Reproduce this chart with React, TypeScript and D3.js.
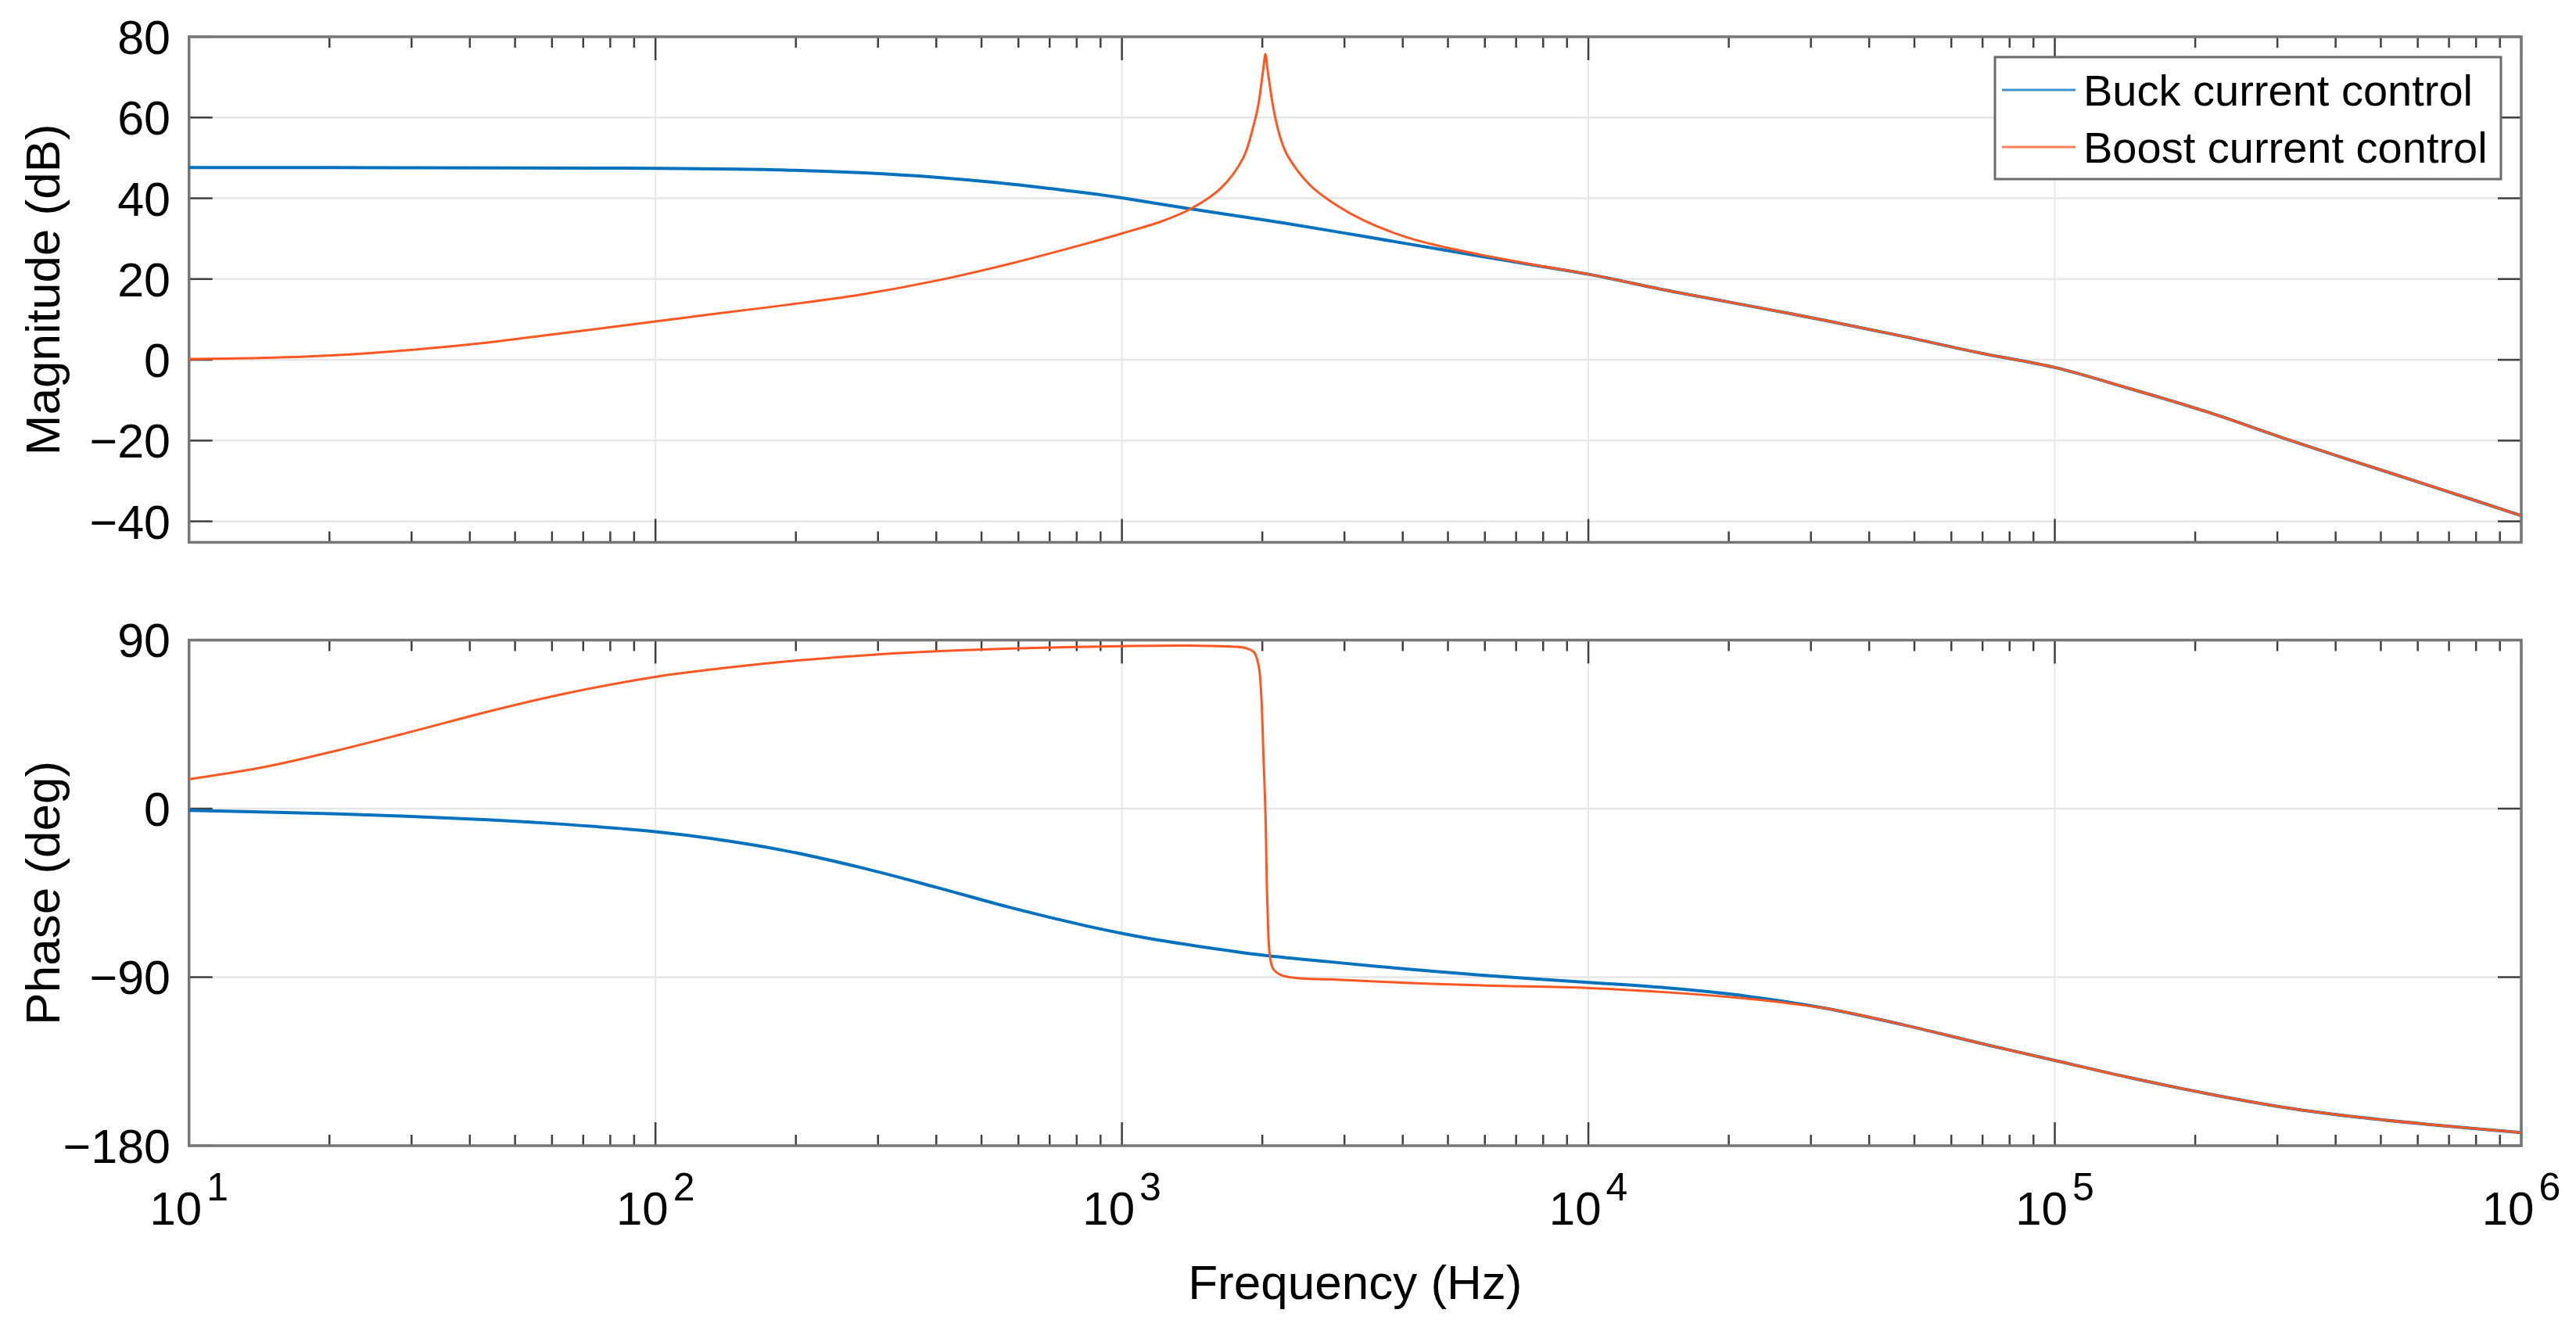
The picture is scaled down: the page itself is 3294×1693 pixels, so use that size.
import { useEffect, useRef } from 'react'
import * as d3 from 'd3'

const W = 3294
const H = 1693
const FONT = '"Liberation Sans", Arial, Helvetica, sans-serif'

// values: [frequency in Hz, value]
const BUCK_MAG: [number, number][] = [
  [10, 47.6], [20, 47.6], [50, 47.5], [100, 47.4], [190, 47.0], [280, 46.3], [400, 45.2],
  [580, 43.5], [840, 41.3], [1000, 40.1], [1400, 37.4], [2030, 34.6], [2790, 32.0], [3250, 30.7],
  [4060, 28.8], [5920, 25.6], [7500, 23.6], [10000, 21.2], [15150, 16.9], [26670, 11.6],
  [46900, 5.9], [68400, 1.8], [100000, -1.9], [145500, -7.2], [212300, -12.9], [309600, -19.4],
  [451000, -25.6], [658000, -31.7], [1000000, -38.6],
]

const BOOST_MAG: [number, number][] = [
  [10, 0.2], [14.5, 0.5], [20.9, 1.2], [30.2, 2.5], [43.7, 4.3], [63.3, 6.6], [100, 9.5],
  [132, 11.3], [191, 13.6], [277, 16.2], [400, 19.6], [580, 23.9], [840, 28.8], [1000, 31.3],
  [1210, 34.2], [1400, 37.3], [1630, 42.5], [1820, 50.0], [1920, 58.5], [1960, 63.0],
  [1994, 69.0], [2012, 72.5], [2031, 75.7], [2050, 72.3], [2069, 69.0], [2100, 64.0],
  [2146, 58.5], [2200, 54.0], [2269, 50.4], [2534, 43.2], [2900, 38.1], [3300, 34.5],
  [4064, 30.4], [5000, 27.7], [5916, 25.95], [7500, 23.7], [10000, 21.2], [15150, 16.9],
  [26670, 11.6], [46900, 5.9], [68400, 1.8], [100000, -1.9], [145500, -7.2], [212300, -12.9],
  [309600, -19.4], [451000, -25.6], [658000, -31.7], [1000000, -38.6],
]

const BUCK_PHASE: [number, number][] = [
  [10, -0.9], [20.9, -2.8], [43.7, -5.9], [63.3, -8.3], [100, -12.3], [132, -16.0],
  [191, -22.6], [277, -31.6], [400, -42.0], [580, -53.0], [838, -62.6], [1000, -66.6],
  [1212, -70.4], [1758, -76.4], [2031, -78.4], [2786, -81.8], [4064, -85.6], [5916, -89.0],
  [10000, -92.8], [15150, -96.0], [22080, -100.3], [32200, -106.6], [46900, -115.2],
  [68400, -125.0], [100000, -134.5], [145500, -143.8], [212300, -152.2], [309600, -159.5],
  [451000, -164.9], [658000, -169.0], [1000000, -173.0],
]

const BOOST_PHASE: [number, number][] = [
  [10, 15.7], [14.5, 22.2], [20.9, 31.2], [30.2, 41.3], [43.7, 51.8], [63.3, 61.2],
  [100, 70.4], [132, 74.3], [191, 78.6], [277, 81.8], [400, 84.0], [580, 85.5], [1000, 86.8],
  [1460, 87.0], [1760, 86.4], [1850, 85.6], [1920, 83.5], [1965, 76.0], [1990, 60.0],
  [2010, 30.0], [2031, -2.0], [2050, -50.0], [2075, -78.0], [2110, -85.5], [2200, -89.0],
  [2400, -90.6], [2786, -91.2], [4064, -93.0], [5916, -94.4], [10000, -95.8],
  [15150, -98.3], [22080, -101.6], [32200, -106.6], [46900, -115.2], [68400, -125.0],
  [100000, -134.5], [145500, -143.8], [212300, -152.2], [309600, -159.5], [451000, -164.9],
  [658000, -169.0], [1000000, -173.0],
]

const MAG_TICKS = [80, 60, 40, 20, 0, -20, -40]
const PHASE_TICKS = [90, 0, -90, -180]
const DECADES = [1, 2, 3, 4, 5, 6]
const SERIES = [
  { name: 'Buck current control', color: '#0072BD', width: 4 },
  { name: 'Boost current control', color: '#FF5722', width: 3 },
]

const fmt = (v: number) => (v < 0 ? `\u2212${-v}` : `${v}`)

export default function App() {
  const svgRef = useRef<SVGSVGElement>(null)

  useEffect(() => {
    if (!svgRef.current) return
    const svg = d3.select(svgRef.current)
    svg.selectAll('*').remove()
    const defs = svg.append('defs')

    const x = d3.scaleLog().domain([10, 1e6]).range([241.7, 3224])
    const [x0, x1] = x.range()
    const majorLen = 30, minorLen = 14
    const decades = DECADES.map(d => 10 ** d)
    const minors: number[] = []
    for (let d = 1; d < 6; d++) for (let k = 2; k <= 9; k++) minors.push(k * 10 ** d)

    const panels = [
      { id: 'mag', top: 47, bottom: 693.5, domain: [-45.2, 80], ticks: MAG_TICKS, data: [BUCK_MAG, BOOST_MAG], label: 'Magnitude (dB)' },
      { id: 'phase', top: 818.5, bottom: 1465, domain: [-180, 90], ticks: PHASE_TICKS, data: [BUCK_PHASE, BOOST_PHASE], label: 'Phase (deg)' },
    ]

    panels.forEach(p => {
      const y = d3.scaleLinear().domain(p.domain).range([p.bottom, p.top])
      const g = svg.append('g')

      defs.append('clipPath').attr('id', `clip-${p.id}`)
        .append('rect').attr('x', x0).attr('y', p.top).attr('width', x1 - x0).attr('height', p.bottom - p.top)

      // grid
      g.selectAll('.hg').data(p.ticks.filter(t => t > p.domain[0] && t < p.domain[1])).join('line')
        .attr('x1', x0).attr('x2', x1).attr('y1', d => y(d)).attr('y2', d => y(d))
        .attr('stroke', '#e6e6e6').attr('stroke-width', 2.5)
      g.selectAll('.vg').data(decades.slice(1, -1)).join('line')
        .attr('x1', d => x(d)).attr('x2', d => x(d)).attr('y1', p.top).attr('y2', p.bottom)
        .attr('stroke', '#e8e8e8').attr('stroke-width', 2)

      // ticks, mirrored on both sides
      const tickG = g.append('g').attr('stroke', '#404040').attr('stroke-width', 2.5)
      const xt = [...decades.map(v => ({ v, len: majorLen })), ...minors.map(v => ({ v, len: minorLen }))]
      xt.forEach(t => {
        tickG.append('line').attr('x1', x(t.v)).attr('x2', x(t.v)).attr('y1', p.bottom).attr('y2', p.bottom - t.len)
        tickG.append('line').attr('x1', x(t.v)).attr('x2', x(t.v)).attr('y1', p.top).attr('y2', p.top + t.len)
      })
      p.ticks.forEach(t => {
        tickG.append('line').attr('x1', x0).attr('x2', x0 + majorLen).attr('y1', y(t)).attr('y2', y(t))
        tickG.append('line').attr('x1', x1).attr('x2', x1 - majorLen).attr('y1', y(t)).attr('y2', y(t))
      })

      // frame
      g.append('rect').attr('x', x0).attr('y', p.top).attr('width', x1 - x0).attr('height', p.bottom - p.top)
        .attr('fill', 'none').attr('stroke', '#767676').attr('stroke-width', 3.5)

      // curves
      const line = d3.line<[number, number]>().x(d => x(d[0])).y(d => y(d[1])).curve(d3.curveCatmullRom.alpha(0.5))
      const lg = g.append('g').attr('clip-path', `url(#clip-${p.id})`)
      p.data.forEach((s, i) => {
        lg.append('path').attr('d', line(s) ?? '').attr('fill', 'none')
          .attr('stroke', SERIES[i].color).attr('stroke-width', SERIES[i].width)
          .attr('stroke-linejoin', 'round')
      })

      // y tick labels
      g.selectAll('.yl').data(p.ticks).join('text')
        .attr('x', x0 - 23.7).attr('y', d => y(d)).attr('dy', '0.36em')
        .attr('text-anchor', 'end').attr('font-family', FONT).attr('font-size', 61).attr('fill', '#000')
        .text(d => fmt(d))

      // y axis label
      svg.append('text')
        .attr('transform', `translate(76,${(p.top + p.bottom) / 2}) rotate(-90)`)
        .attr('text-anchor', 'middle').attr('font-family', FONT).attr('font-size', 62).attr('fill', '#000')
        .text(p.label)
    })

    // x tick labels (bottom panel only)
    DECADES.forEach(d => {
      const t = svg.append('text').attr('x', x(10 ** d)).attr('y', 1566)
        .attr('text-anchor', 'middle').attr('font-family', FONT).attr('font-size', 60).attr('fill', '#000')
      t.append('tspan').text('10')
      t.append('tspan').attr('dx', 6).attr('dy', -31).attr('font-size', 50).text(String(d))
    })

    svg.append('text').attr('x', (x0 + x1) / 2).attr('y', 1661)
      .attr('text-anchor', 'middle').attr('font-family', FONT).attr('font-size', 62).attr('fill', '#000')
      .text('Frequency (Hz)')

    // legend
    const leg = svg.append('g')
    leg.append('rect').attr('x', 2551).attr('y', 73).attr('width', 647).attr('height', 156)
      .attr('fill', '#fff').attr('stroke', '#6b6b6b').attr('stroke-width', 3)
    SERIES.forEach((s, i) => {
      const cy = 115 + i * 73
      leg.append('line').attr('x1', 2560).attr('x2', 2654).attr('y1', cy).attr('y2', cy)
        .attr('stroke', s.color).attr('stroke-width', 3).attr('opacity', 0.75)
      leg.append('text').attr('x', 2664).attr('y', cy + 20)
        .attr('font-family', FONT).attr('font-size', 56).attr('fill', '#000').text(s.name)
    })

    return () => { svg.selectAll('*').remove() }
  }, [])

  return (
    <>
      <style>{'body{margin:0;background:#fff}'}</style>
      <svg ref={svgRef} width={W} height={H} viewBox={`0 0 ${W} ${H}`} style={{ display: 'block', background: '#fff' }} />
    </>
  )
}
